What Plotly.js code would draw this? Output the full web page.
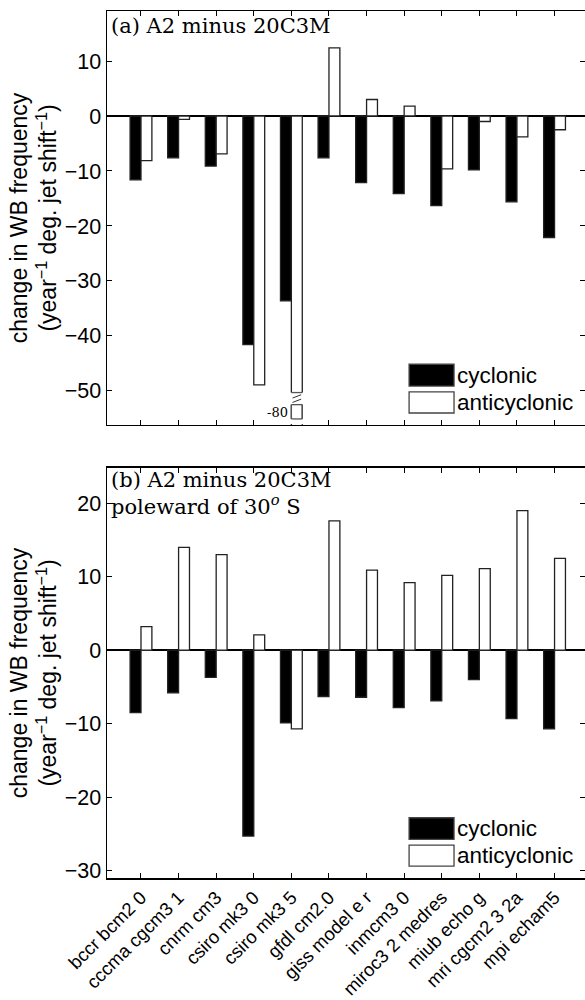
<!DOCTYPE html>
<html><head><meta charset="utf-8">
<script src="https://cdn.plot.ly/plotly-3.0.1.min.js"></script>
<style>body{margin:0;background:#fff}#plot{width:585px;height:1000px}</style>
</head><body><div id="plot"></div>
<script>
const models = ['bccr bcm2 0','cccma cgcm3 1','cnrm cm3','csiro mk3 0','csiro mk3 5','gfdl cm2.0','giss model e r','inmcm3 0','miroc3 2 medres','miub echo g','mri cgcm2 3 2a','mpi echam5'];
const cyclonicA     = [-11.6,-7.6,-9.1,-41.6,-33.6,-7.6,-12.1,-14.1,-16.3,-9.8,-15.6,-22.1];
const anticyclonicA = [-8.1,-0.6,-6.9,-48.9,-80,12.4,3.0,1.8,-9.6,-1.0,-3.8,-2.5];
const cyclonicB     = [-8.5,-5.8,-3.7,-25.3,-9.9,-6.3,-6.4,-7.8,-6.9,-4.0,-9.3,-10.7];
const anticyclonicB = [3.2,14.0,13.0,2.1,-10.7,17.6,10.9,9.2,10.2,11.1,19.0,12.5];
const seriesNames = ['cyclonic','anticyclonic'];
const panelTitles = ['(a) A2 minus 20C3M','(b) A2 minus 20C3M<br>poleward of 30<sup><i>o</i></sup> S'];

const W = 0.29;
const sans = 'Liberation Sans, Arial, sans-serif';
const serif = 'DejaVu Serif, serif';
const lineCol = '#222';

function bar(y, name, fill, xa, ya, off) {
  return {type:'bar', x: models, y: y, name: name, width: W, offset: off,
    marker:{color: fill, line:{color: lineCol, width: 1.3}}, xaxis: xa, yaxis: ya,
    showlegend:false, cliponaxis:true};
}
const data = [
  bar(cyclonicA, seriesNames[0], '#000', 'x', 'y', -W),
  bar(anticyclonicA, seriesNames[1], '#fff', 'x', 'y', 0),
  bar(cyclonicB, seriesNames[0], '#000', 'x2', 'y2', -W),
  bar(anticyclonicB, seriesNames[1], '#fff', 'x2', 'y2', 0)
];

const ytitle = 'change in WB frequency<br>(year<sup>−1</sup> deg. jet shift<sup>−1</sup>)';
const xBase = {type:'category', range:[-0.904, 11.81], ticks:'inside', ticklen:5, tickwidth:1,
  tickcolor:'#000', showline:true, linecolor:'#000', linewidth:1.5, mirror:'ticks',
  showgrid:false, zeroline:false, tickangle:-45, ticklabelstandoff:0,
  tickfont:{family:sans, size:18.5, color:'#000'}};
const yBase = {ticks:'inside', ticklen:5, tickwidth:1, tickcolor:'#000', showline:true,
  linecolor:'#000', linewidth:1.5, mirror:'ticks', showgrid:false, zeroline:true,
  zerolinecolor:'#000', zerolinewidth:1.5, dtick:10,
  tickfont:{family:sans, size:21.5, color:'#000'},
  title:{text: ytitle, font:{family:sans, size:23, color:'#000'}, standoff:1}};

const layout = {
  width:585, height:1000, margin:{l:107, r:0, t:11, b:122},
  paper_bgcolor:'#fff', plot_bgcolor:'#fff', barmode:'overlay', showlegend:false,
  xaxis: Object.assign({}, xBase, {anchor:'y', showticklabels:false}),
  yaxis: Object.assign({}, yBase, {domain:[0.5225,1], range:[-56.2,19.1], anchor:'x'}),
  xaxis2: Object.assign({}, xBase, {anchor:'y2'}),
  yaxis2: Object.assign({}, yBase, {domain:[0,0.4729], range:[-31,24.8], anchor:'x2'}),
  shapes: [], annotations: []
};

// panel titles and legends
[['x','y'],['x2','y2']].forEach(function(r, i){
  layout.annotations.push({xref: r[0]+' domain', yref: r[1]+' domain', x:0.004, y: i===0?0.998:1.005,
    xanchor:'left', yanchor:'top', text: panelTitles[i], showarrow:false, align:'left',
    font:{family:serif, size:21, color:'#000'}});
  const sw = [[0.147,0.094,'#000'],[0.080,0.029,'#fff']];
  sw.forEach(function(s, k){
    layout.shapes.push({type:'rect', xref:r[0]+' domain', yref:r[1]+' domain',
      x0:0.632, x1:0.726, y0:s[1], y1:s[0], fillcolor:s[2], line:{color:'#444', width:1.3}});
    layout.annotations.push({xref:r[0]+' domain', yref:r[1]+' domain', x:0.729, y:(s[0]+s[1])/2,
      xanchor:'left', yanchor:'middle', text: seriesNames[k], showarrow:false,
      font:{family:sans, size:22.5, color:'#000'}});
  });
});

// axis break on the off-scale bar in panel (a)
const bi = anticyclonicA.findIndex(function(v){ return v < -56.2; });
if (bi >= 0) {
  const xa = bi, xb = bi + W;
  layout.shapes.push({type:'rect', xref:'x', yref:'y', x0:xa-0.04, x1:xb+0.04, y0:-52.5, y1:-50.3, fillcolor:'#fff', line:{width:0}});
  layout.shapes.push({type:'rect', xref:'x', yref:'y', x0:xa-0.04, x1:xb+0.04, y0:-56.05, y1:-55.1, fillcolor:'#fff', line:{width:0}});
  [-50.3,-52.5,-55.1].forEach(function(yv){
    layout.shapes.push({type:'line', xref:'x', yref:'y', x0:xa, x1:xb, y0:yv, y1:yv, line:{color:'#555', width:1.3}});
  });
  layout.shapes.push({type:'line', xref:'x', yref:'y', x0:xa, x1:xa, y0:-55.1, y1:-52.5, line:{color:'#555', width:1.3}});
  layout.shapes.push({type:'line', xref:'x', yref:'y', x0:xb, x1:xb, y0:-55.1, y1:-52.5, line:{color:'#555', width:1.3}});
  layout.shapes.push({type:'line', xref:'x', yref:'y', x0:xa+0.03, x1:xb-0.03, y0:-51.3, y1:-50.7, line:{color:'#333', width:1}});
  layout.shapes.push({type:'line', xref:'x', yref:'y', x0:xa+0.03, x1:xb-0.03, y0:-52.1, y1:-51.5, line:{color:'#333', width:1}});
  layout.annotations.push({xref:'x', yref:'y', x:xa-0.04, y:-53.9, xanchor:'right', yanchor:'middle',
    text: String(anticyclonicA[bi]), showarrow:false, font:{family:serif, size:13, color:'#000'}});
}

Plotly.newPlot('plot', data, layout, {staticPlot:true});
</script></body></html>
